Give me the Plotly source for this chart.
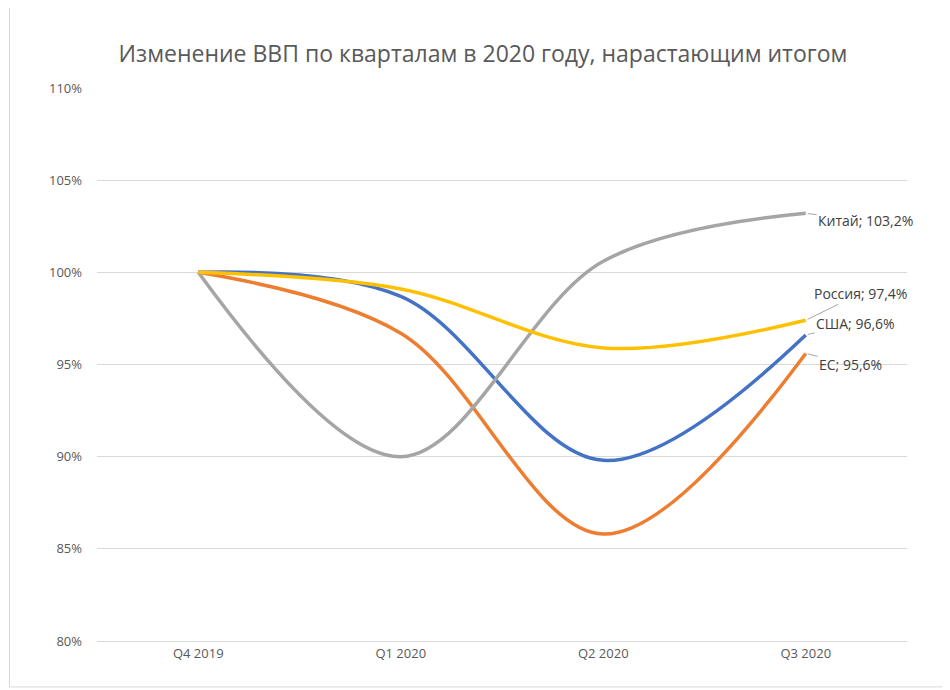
import plotly.graph_objects as go

quarters = ["Q4 2019", "Q1 2020", "Q2 2020", "Q3 2020"]
usa = [100, 98.7, 89.8, 96.6]
eu = [100, 96.7, 85.8, 95.6]
china = [100, 90.0, 100.6, 103.2]
russia = [100, 99.1, 95.9, 97.4]

series = [("США", usa, "#4472C4"), ("ЕС", eu, "#ED7D31"),
          ("Китай", china, "#A5A5A5"), ("Россия", russia, "#FFC000")]

fig = go.Figure()
for name, vals, col in series:
    fig.add_trace(go.Scatter(x=list(range(4)), y=vals, mode="lines", name=name,
                             line=dict(color=col, width=3.5, shape="spline", smoothing=1.0)))

label_offsets = {"Китай": (60, 7), "Россия": (55, -27), "США": (50, -12), "ЕС": (45, 11)}
for name, vals, col in series:
    ax, ay = label_offsets[name]
    txt = f"{name}; {vals[-1]:.1f}%".replace(".", ",")
    fig.add_annotation(x=3, y=vals[-1], text=txt, showarrow=True, arrowhead=0,
                       arrowcolor="#A6A6A6", arrowwidth=1, ax=ax, ay=ay, standoff=2,
                       font=dict(size=14, color="#404040"))

yt = [80, 85, 90, 95, 100, 105, 110]
fig.update_layout(
    width=950, height=690, showlegend=False,
    paper_bgcolor="white", plot_bgcolor="white",
    margin=dict(l=89, r=51, t=80, b=57),
    font=dict(family="Open Sans, Liberation Sans, sans-serif", color="#595959"),
    title=dict(text="Изменение ВВП по кварталам в 2020 году, нарастающим итогом",
               x=0.5, xanchor="center", y=0.945, font=dict(size=23, color="#595959")),
    xaxis=dict(tickvals=list(range(4)), ticktext=quarters, range=[-0.5, 3.5],
               showgrid=False, showline=True, linecolor="#D9D9D9", ticks="",
               tickfont=dict(size=13), zeroline=False),
    yaxis=dict(range=[80, 110], tickvals=yt, ticktext=[f"{v}%" for v in yt],
               showgrid=True, gridcolor="#D9D9D9", zeroline=False,
               tickfont=dict(size=13), ticklabelstandoff=14),
    shapes=[dict(type="rect", xref="paper", yref="paper", x0=-0.108, x1=1.049, y0=-0.083, y1=1.157,
                 line=dict(color="#D9D9D9", width=1))],
)
fig.write_html("out.html")
